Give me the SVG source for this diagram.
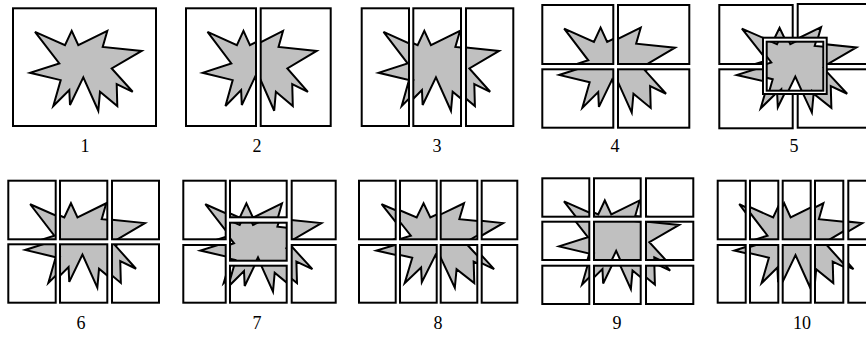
<svg xmlns="http://www.w3.org/2000/svg" width="866" height="337" viewBox="0 0 866 337">
<style>
.f{fill:none;stroke:#000;stroke-width:2}
.fw{fill:#fff;stroke:#000;stroke-width:2}
.l{font-family:"Liberation Serif","Times New Roman",serif;font-size:18px;fill:#000;text-anchor:middle}
svg svg{overflow:hidden}
</style>
<defs>
<polygon id="s" points="35,31.7 65,45 71.7,30.7 78.3,45 107.3,30.7 102.7,46.7 141.7,50.7 111.7,68.3 132.7,91.7 116.7,84 117.3,106 100,91.7 98.3,110.7 83.3,77.3 70,105 69.3,90 53.3,106 60.7,80 30,72.7 59.3,63.3" fill="#c0c0c0" stroke="#000" stroke-width="2" stroke-linejoin="miter" vector-effect="non-scaling-stroke"/>
</defs>
<rect width="866" height="337" fill="#fff"/>

<g id="panel1">
<svg x="13" y="8.3" width="143" height="117.7" viewBox="13 8 143 118" preserveAspectRatio="none"><use href="#s"/></svg>
<rect class="f" x="13" y="8.3" width="143" height="117.7"/>
<text class="l" x="85" y="152">1</text>
</g>

<g id="panel2">
<svg x="186" y="8.3" width="70" height="117.7" viewBox="13 8 71.5 118" preserveAspectRatio="none"><use href="#s"/></svg>
<rect class="f" x="186" y="8.3" width="70" height="117.7"/>
<svg x="260.7" y="8.3" width="70" height="117.7" viewBox="84.5 8 71.5 118" preserveAspectRatio="none"><use href="#s"/></svg>
<rect class="f" x="260.7" y="8.3" width="70" height="117.7"/>
<text class="l" x="257" y="152">2</text>
</g>

<g id="panel3">
<svg x="361.7" y="8.3" width="47.3" height="117.7" viewBox="13 8 47.67 118" preserveAspectRatio="none"><use href="#s"/></svg>
<rect class="f" x="361.7" y="8.3" width="47.3" height="117.7"/>
<svg x="413.3" y="8.3" width="47.7" height="117.7" viewBox="60.67 8 47.67 118" preserveAspectRatio="none"><use href="#s"/></svg>
<rect class="f" x="413.3" y="8.3" width="47.7" height="117.7"/>
<svg x="466" y="8.3" width="47.3" height="117.7" viewBox="108.33 8 47.67 118" preserveAspectRatio="none"><use href="#s"/></svg>
<rect class="f" x="466" y="8.3" width="47.3" height="117.7"/>
<text class="l" x="437" y="152">3</text>
</g>

<g id="panel4">
<svg x="542.3" y="5" width="71" height="59" viewBox="13 8 71.5 59" preserveAspectRatio="none"><use href="#s"/></svg>
<rect class="f" x="542.3" y="5" width="71" height="59"/>
<svg x="618" y="5" width="71.3" height="59" viewBox="84.5 8 71.5 59" preserveAspectRatio="none"><use href="#s"/></svg>
<rect class="f" x="618" y="5" width="71.3" height="59"/>
<svg x="542.3" y="69.3" width="71" height="58.4" viewBox="13 67 71.5 59" preserveAspectRatio="none"><use href="#s"/></svg>
<rect class="f" x="542.3" y="69.3" width="71" height="58.4"/>
<svg x="618" y="69.3" width="71.3" height="58.4" viewBox="84.5 67 71.5 59" preserveAspectRatio="none"><use href="#s"/></svg>
<rect class="f" x="618" y="69.3" width="71.3" height="58.4"/>
<text class="l" x="615" y="152">4</text>
</g>

<g id="panel5">
<svg x="719.3" y="5" width="73.4" height="59" viewBox="13 8 71.5 59" preserveAspectRatio="none"><use href="#s"/></svg>
<rect class="f" x="719.3" y="5" width="73.4" height="59"/>
<svg x="797.7" y="4" width="73.4" height="60" viewBox="84.5 8 71.5 59" preserveAspectRatio="none"><use href="#s"/></svg>
<rect class="f" x="797.7" y="4" width="73.4" height="60"/>
<svg x="719.3" y="69.3" width="73.4" height="59" viewBox="13 67 71.5 59" preserveAspectRatio="none"><use href="#s"/></svg>
<rect class="f" x="719.3" y="69.3" width="73.4" height="59"/>
<svg x="797.7" y="69.3" width="73.4" height="58.4" viewBox="84.5 67 71.5 59" preserveAspectRatio="none"><use href="#s"/></svg>
<rect class="f" x="797.7" y="69.3" width="73.4" height="58.4"/>
<rect class="fw" x="763" y="37.7" width="63.7" height="56.3"/>
<svg x="766.7" y="41.7" width="56.6" height="49" viewBox="54.7 42.5 56.6 49" preserveAspectRatio="none"><use href="#s"/></svg>
<rect class="f" x="766.7" y="41.7" width="56.6" height="49"/>
<text class="l" x="794" y="152">5</text>
</g>

<g id="panel6">
<svg x="8.3" y="180.7" width="47.4" height="58.6" viewBox="13 8 47.67 59" preserveAspectRatio="none"><use href="#s"/></svg>
<rect class="f" x="8.3" y="180.7" width="47.4" height="58.6"/>
<svg x="60" y="180.7" width="47.3" height="58.6" viewBox="60.67 8 47.67 59" preserveAspectRatio="none"><use href="#s"/></svg>
<rect class="f" x="60" y="180.7" width="47.3" height="58.6"/>
<svg x="112" y="180.7" width="47" height="58.6" viewBox="108.33 8 47.67 59" preserveAspectRatio="none"><use href="#s"/></svg>
<rect class="f" x="112" y="180.7" width="47" height="58.6"/>
<svg x="8.3" y="244.3" width="47.4" height="58.4" viewBox="13 67 47.67 59" preserveAspectRatio="none"><use href="#s"/></svg>
<rect class="f" x="8.3" y="244.3" width="47.4" height="58.4"/>
<svg x="60" y="244.3" width="47.3" height="58.4" viewBox="60.67 67 47.67 59" preserveAspectRatio="none"><use href="#s"/></svg>
<rect class="f" x="60" y="244.3" width="47.3" height="58.4"/>
<svg x="112" y="244.3" width="47" height="58.4" viewBox="108.33 67 47.67 59" preserveAspectRatio="none"><use href="#s"/></svg>
<rect class="f" x="112" y="244.3" width="47" height="58.4"/>
<text class="l" x="81" y="329">6</text>
</g>

<g id="panel7">
<svg x="183.3" y="180.7" width="42.4" height="58.6" viewBox="13 8 42.3 59" preserveAspectRatio="none"><use href="#s"/></svg>
<rect class="f" x="183.3" y="180.7" width="42.4" height="58.6"/>
<svg x="183.3" y="245" width="42.4" height="57.7" viewBox="13 67 42.3 59" preserveAspectRatio="none"><use href="#s"/></svg>
<rect class="f" x="183.3" y="245" width="42.4" height="57.7"/>
<svg x="291.7" y="180.7" width="44" height="58.6" viewBox="112 8 44 59" preserveAspectRatio="none"><use href="#s"/></svg>
<rect class="f" x="291.7" y="180.7" width="44" height="58.6"/>
<svg x="291.7" y="245" width="44" height="57.7" viewBox="112 67 44 59" preserveAspectRatio="none"><use href="#s"/></svg>
<rect class="f" x="291.7" y="245" width="44" height="57.7"/>
<svg x="230" y="180.7" width="56.7" height="36.6" viewBox="55.3 8 56.7 36.6" preserveAspectRatio="none"><use href="#s"/></svg>
<rect class="f" x="230" y="180.7" width="56.7" height="36.6"/>
<svg x="230" y="222.7" width="56.7" height="38" viewBox="55.3 42.7 56.7 38" preserveAspectRatio="none"><use href="#s"/></svg>
<rect class="f" x="230" y="222.7" width="56.7" height="38" stroke-width="2.6"/>
<svg x="230" y="265.7" width="56.7" height="37" viewBox="55.3 84.7 56.7 37" preserveAspectRatio="none"><use href="#s"/></svg>
<rect class="f" x="230" y="265.7" width="56.7" height="37"/>
<text class="l" x="257" y="329">7</text>
</g>

<g id="panel8">
<svg x="359" y="180.7" width="36.7" height="58.6" viewBox="13 8 35.75 59" preserveAspectRatio="none"><use href="#s"/></svg>
<rect class="f" x="359" y="180.7" width="36.7" height="58.6"/>
<svg x="400" y="180.7" width="36.7" height="58.6" viewBox="48.75 8 35.75 59" preserveAspectRatio="none"><use href="#s"/></svg>
<rect class="f" x="400" y="180.7" width="36.7" height="58.6"/>
<svg x="440.7" y="180.7" width="36.6" height="58.6" viewBox="84.5 8 35.75 59" preserveAspectRatio="none"><use href="#s"/></svg>
<rect class="f" x="440.7" y="180.7" width="36.6" height="58.6"/>
<svg x="481.7" y="180.7" width="35.6" height="58.6" viewBox="120.25 8 35.75 59" preserveAspectRatio="none"><use href="#s"/></svg>
<rect class="f" x="481.7" y="180.7" width="35.6" height="58.6"/>
<svg x="359" y="245" width="36.7" height="57.7" viewBox="13 67 35.75 59" preserveAspectRatio="none"><use href="#s"/></svg>
<rect class="f" x="359" y="245" width="36.7" height="57.7"/>
<svg x="400" y="245" width="36.7" height="57.7" viewBox="48.75 67 35.75 59" preserveAspectRatio="none"><use href="#s"/></svg>
<rect class="f" x="400" y="245" width="36.7" height="57.7"/>
<svg x="440.7" y="245" width="36.6" height="57.7" viewBox="84.5 67 35.75 59" preserveAspectRatio="none"><use href="#s"/></svg>
<rect class="f" x="440.7" y="245" width="36.6" height="57.7"/>
<svg x="481.7" y="245" width="35.6" height="57.7" viewBox="120.25 67 35.75 59" preserveAspectRatio="none"><use href="#s"/></svg>
<rect class="f" x="481.7" y="245" width="35.6" height="57.7"/>
<text class="l" x="438" y="329">8</text>
</g>

<g id="panel9">
<svg x="542.3" y="178.3" width="47" height="38.4" viewBox="13 8 47.67 39.33" preserveAspectRatio="none"><use href="#s"/></svg>
<rect class="f" x="542.3" y="178.3" width="47" height="38.4"/>
<svg x="594" y="178.3" width="46.7" height="38.4" viewBox="60.67 8 47.67 39.33" preserveAspectRatio="none"><use href="#s"/></svg>
<rect class="f" x="594" y="178.3" width="46.7" height="38.4"/>
<svg x="646" y="178.3" width="47.3" height="38.4" viewBox="108.33 8 47.67 39.33" preserveAspectRatio="none"><use href="#s"/></svg>
<rect class="f" x="646" y="178.3" width="47.3" height="38.4"/>
<svg x="542.3" y="221.7" width="47" height="38.3" viewBox="13 47.33 47.67 39.33" preserveAspectRatio="none"><use href="#s"/></svg>
<rect class="f" x="542.3" y="221.7" width="47" height="38.3"/>
<svg x="594" y="221.7" width="46.7" height="38.3" viewBox="60.67 47.33 47.67 39.33" preserveAspectRatio="none"><use href="#s"/></svg>
<rect class="f" x="594" y="221.7" width="46.7" height="38.3" stroke-width="2.6"/>
<svg x="646" y="221.7" width="47.3" height="38.3" viewBox="108.33 47.33 47.67 39.33" preserveAspectRatio="none"><use href="#s"/></svg>
<rect class="f" x="646" y="221.7" width="47.3" height="38.3"/>
<svg x="542.3" y="265.7" width="47" height="38.3" viewBox="13 86.67 47.67 39.33" preserveAspectRatio="none"><use href="#s"/></svg>
<rect class="f" x="542.3" y="265.7" width="47" height="38.3"/>
<svg x="594" y="265.7" width="46.7" height="38.3" viewBox="60.67 86.67 47.67 39.33" preserveAspectRatio="none"><use href="#s"/></svg>
<rect class="f" x="594" y="265.7" width="46.7" height="38.3"/>
<svg x="646" y="265.7" width="47.3" height="38.3" viewBox="108.33 86.67 47.67 39.33" preserveAspectRatio="none"><use href="#s"/></svg>
<rect class="f" x="646" y="265.7" width="47.3" height="38.3"/>
<text class="l" x="617" y="329">9</text>
</g>

<g id="panel10">
<svg x="717.7" y="180.7" width="28" height="58.6" viewBox="13 8 28.6 59" preserveAspectRatio="none"><use href="#s"/></svg>
<rect class="f" x="717.7" y="180.7" width="28" height="58.6"/>
<svg x="750" y="180.7" width="28.3" height="58.6" viewBox="41.6 8 28.6 59" preserveAspectRatio="none"><use href="#s"/></svg>
<rect class="f" x="750" y="180.7" width="28.3" height="58.6"/>
<svg x="782.7" y="180.7" width="28" height="58.6" viewBox="70.2 8 28.6 59" preserveAspectRatio="none"><use href="#s"/></svg>
<rect class="f" x="782.7" y="180.7" width="28" height="58.6"/>
<svg x="815" y="180.7" width="28.3" height="58.6" viewBox="98.8 8 28.6 59" preserveAspectRatio="none"><use href="#s"/></svg>
<rect class="f" x="815" y="180.7" width="28.3" height="58.6"/>
<svg x="848.3" y="180.7" width="28" height="58.6" viewBox="127.4 8 28.6 59" preserveAspectRatio="none"><use href="#s"/></svg>
<rect class="f" x="848.3" y="180.7" width="28" height="58.6"/>
<svg x="717.7" y="245" width="28" height="57.7" viewBox="13 67 28.6 59" preserveAspectRatio="none"><use href="#s"/></svg>
<rect class="f" x="717.7" y="245" width="28" height="57.7"/>
<svg x="750" y="245" width="28.3" height="57.7" viewBox="41.6 67 28.6 59" preserveAspectRatio="none"><use href="#s"/></svg>
<rect class="f" x="750" y="245" width="28.3" height="57.7"/>
<svg x="782.7" y="245" width="28" height="57.7" viewBox="70.2 67 28.6 59" preserveAspectRatio="none"><use href="#s"/></svg>
<rect class="f" x="782.7" y="245" width="28" height="57.7"/>
<svg x="815" y="245" width="28.3" height="57.7" viewBox="98.8 67 28.6 59" preserveAspectRatio="none"><use href="#s"/></svg>
<rect class="f" x="815" y="245" width="28.3" height="57.7"/>
<svg x="848.3" y="245" width="28" height="57.7" viewBox="127.4 67 28.6 59" preserveAspectRatio="none"><use href="#s"/></svg>
<rect class="f" x="848.3" y="245" width="28" height="57.7"/>
<text class="l" x="802" y="329">10</text>
</g>
</svg>
